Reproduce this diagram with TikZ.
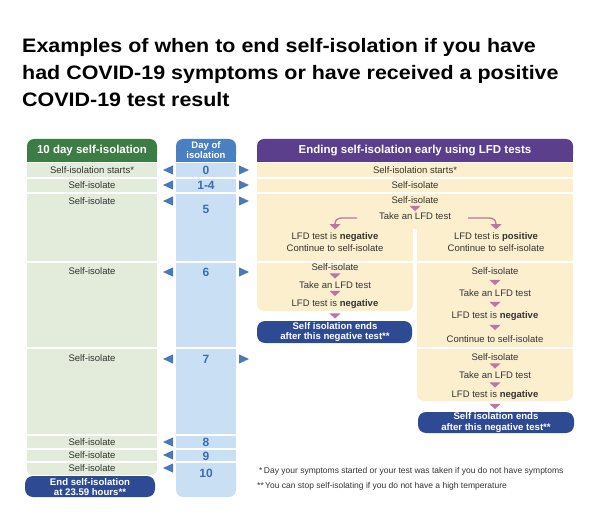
\documentclass[tikz,border=0pt]{standalone}
\usepackage{fontspec}
\setmainfont{Liberation Sans}
\newfontfamily\titlefont[FakeStretch=1.1]{Liberation Sans}
\definecolor{greenh}{HTML}{3E7C45}
\definecolor{greenl}{HTML}{E3EBDA}
\definecolor{blueh}{HTML}{4A7FC1}
\definecolor{bluel}{HTML}{C9E0F4}
\definecolor{numblue}{HTML}{3B6DB0}
\definecolor{arrblue}{HTML}{4A78B8}
\definecolor{purpleh}{HTML}{5B3F8C}
\definecolor{cream}{HTML}{FBEFCD}
\definecolor{darkbox}{HTML}{2E4A93}
\definecolor{pinkc}{HTML}{BA76A5}
\definecolor{txt}{HTML}{333333}
\newcommand{\dntri}[2]{\fill[pinkc] (#1-5.5,#2-2.6) -- (#1+5.5,#2-2.6) -- (#1,#2+2.6) -- cycle;}
\newcommand{\lftri}[1]{\fill[arrblue] (173,#1-4.6) -- (173,#1+4.6) -- (163,#1) -- cycle;}
\newcommand{\rgtri}[1]{\fill[arrblue] (239,#1-4.6) -- (239,#1+4.6) -- (249,#1) -- cycle;}
\begin{document}
\begin{tikzpicture}[x=1pt,y=-1pt,
  lbl/.style={font=\fontsize{9.5}{11}\selectfont, text=txt, inner sep=0pt},
  hdr/.style={font=\fontsize{11.5}{13}\selectfont\bfseries, text=white, inner sep=0pt},
  daynum/.style={font=\fontsize{12}{14}\selectfont\bfseries, text=numblue, inner sep=0pt},
  endtxt/.style={font=\fontsize{9.6}{10.2}\selectfont\bfseries, text=white, align=center, inner sep=0pt},
  foot/.style={font=\fontsize{8.5}{10}\selectfont, text=txt, inner sep=0pt, anchor=west},
  ttl/.style={font=\titlefont\fontsize{19.5}{24}\selectfont\bfseries, text=black, inner sep=0pt, anchor=base west}]
\useasboundingbox (0,0) rectangle (600,524);
\fill[white] (0,0) rectangle (600,524);
% title
\node[ttl] (t1) at (22,53) {Examples of when to end self-isolation if you have};
\node[ttl] (t2) at (22,80) {had COVID-19 symptoms or have received a positive};
\node[ttl] (t3) at (22,107) {COVID-19 test result};
% ---------- left column
\fill[greenh, rounded corners=7pt] (27,139) rectangle (157,162);
\fill[greenh] (27,152) rectangle (157,162);
\foreach \a/\b in {163/177,179/192,194/261,263/347,349/434,436/448,450/461}
  \fill[greenl] (27,\a) rectangle (157,\b);
\fill[greenl, rounded corners=6pt] (27,463) rectangle (157,475);
\fill[greenl] (27,463) rectangle (157,469);
\fill[darkbox, rounded corners=8pt] (25,476) rectangle (155,497);
% ---------- middle column
\fill[blueh, rounded corners=7pt] (176,139) rectangle (236,162);
\fill[blueh] (176,152) rectangle (236,162);
\foreach \a/\b in {163/177,179/192,194/261,263/347,349/434,436/448,450/461}
  \fill[bluel] (176,\a) rectangle (236,\b);
\fill[bluel, rounded corners=7pt] (176,463) rectangle (236,497);
\fill[bluel] (176,463) rectangle (236,480);
% ---------- right section
\fill[purpleh, rounded corners=7pt] (257,139) rectangle (573,162);
\fill[purpleh] (257,152) rectangle (573,162);
\fill[cream] (257,163) rectangle (573,177);
\fill[cream] (257,179) rectangle (573,192);
\fill[cream] (257,194) rectangle (573,261);
\fill[white] (413,229) rectangle (417,262);
\fill[cream, rounded corners=7pt] (257,263) rectangle (413,311);
\fill[cream] (257,263) rectangle (413,300);
\fill[cream] (417,263) rectangle (573,347);
\fill[cream, rounded corners=7pt] (417,349) rectangle (573,401);
\fill[cream] (417,349) rectangle (573,390);
\fill[darkbox, rounded corners=8pt] (257,321) rectangle (412,343);
\fill[darkbox, rounded corners=8pt] (418,412) rectangle (574,433);
% headers
\node[hdr] (hl) at (92,151) {10 day self-isolation};
\node[hdr, font=\fontsize{9.5}{10}\selectfont\bfseries, align=center] (hm) at (206,150) {Day of\\isolation};
\node[hdr] (hr) at (415,151) {Ending self-isolation early using LFD tests};
% left texts
\node[lbl] (l0) at (92,170) {Self-isolation starts*};
\node[lbl] (l1) at (92,185) {Self-isolate};
\node[lbl] (l5) at (92,201) {Self-isolate};
\node[lbl] (l6) at (92,271) {Self-isolate};
\node[lbl] (l7) at (92,358) {Self-isolate};
\node[lbl] (l8) at (92,442) {Self-isolate};
\node[lbl] (l9) at (92,455) {Self-isolate};
\node[lbl] (l10) at (92,468) {Self-isolate};
\node[endtxt] (lend) at (90,487) {End self-isolation\\at 23.59 hours**};
% day numbers
\node[daynum] (d0) at (206,170) {0};
\node[daynum] (d1) at (206,185) {1-4};
\node[daynum] (d5) at (206,209) {5};
\node[daynum] (d6) at (206,272) {6};
\node[daynum] (d7) at (206,359) {7};
\node[daynum] (d8) at (206,442) {8};
\node[daynum] (d9) at (206,456) {9};
\node[daynum] (d10) at (206,473) {10};
\foreach \y in {170,185,201,272,359,442,455,468} {\lftri{\y}}
\foreach \y in {170,185,201,272,359} {\rgtri{\y}}
% right texts
\node[lbl] (r0) at (415,170) {Self-isolation starts*};
\node[lbl] (r1) at (415,185) {Self-isolate};
\node[lbl] (r5a) at (415,200) {Self-isolate};
\node[lbl] (r5b) at (415,216) {Take an LFD test};
\dntri{415}{208.5}
\coordinate (cl0) at (357,218);
\coordinate (cl1) at (335,224);
\coordinate (cr0) at (468,218);
\coordinate (cr1) at (496,224);
\draw[pinkc, line width=1.3pt] (cl0) -- (342,218) .. controls (338,218) and (335,220) .. (cl1);
\draw[pinkc, line width=1.3pt] (cr0) -- (489,218) .. controls (493,218) and (496,220) .. (cr1);
\dntri{335}{226.8}
\dntri{496}{226.8}
\node[lbl] (na1) at (335,237) {LFD test is \textbf{negative}};
\node[lbl] (na2) at (335,248) {Continue to self-isolate};
\node[lbl] (pa1) at (496,237) {LFD test is \textbf{positive}};
\node[lbl] (pa2) at (496,248) {Continue to self-isolate};
% left block day 6
\node[lbl] (a1) at (335,267) {Self-isolate};
\node[lbl] (a2) at (335,285) {Take an LFD test};
\node[lbl] (a3) at (335,304) {LFD test is \textbf{negative}};
\dntri{335}{276}
\dntri{335}{293.5}
\dntri{335}{316}
\node[endtxt] (ea) at (335,332) {Self isolation ends\\after this negative test**};
% right block day 6
\node[lbl] (b1) at (495,271) {Self-isolate};
\node[lbl] (b2) at (495,293) {Take an LFD test};
\node[lbl] (b3) at (495,316) {LFD test is \textbf{negative}};
\node[lbl] (b4) at (495,339) {Continue to self-isolate};
\dntri{495}{282.5}
\dntri{495}{304.5}
\dntri{495}{327.5}
% right block day 7
\node[lbl] (c1) at (495,357) {Self-isolate};
\node[lbl] (c2) at (495,375) {Take an LFD test};
\node[lbl] (c3) at (495,395) {LFD test is \textbf{negative}};
\dntri{495}{366}
\dntri{495}{385}
\dntri{495}{406.5}
\node[endtxt] (eb) at (496,422.5) {Self isolation ends\\after this negative test**};
% footnotes
\node[foot] (f1) at (259,471) {*\,Day your symptoms started or your test was taken if you do not have symptoms};
\node[foot] (f2) at (257,486) {**\,You can stop self-isolating if you do not have a high temperature};
\end{tikzpicture}
\end{document}
